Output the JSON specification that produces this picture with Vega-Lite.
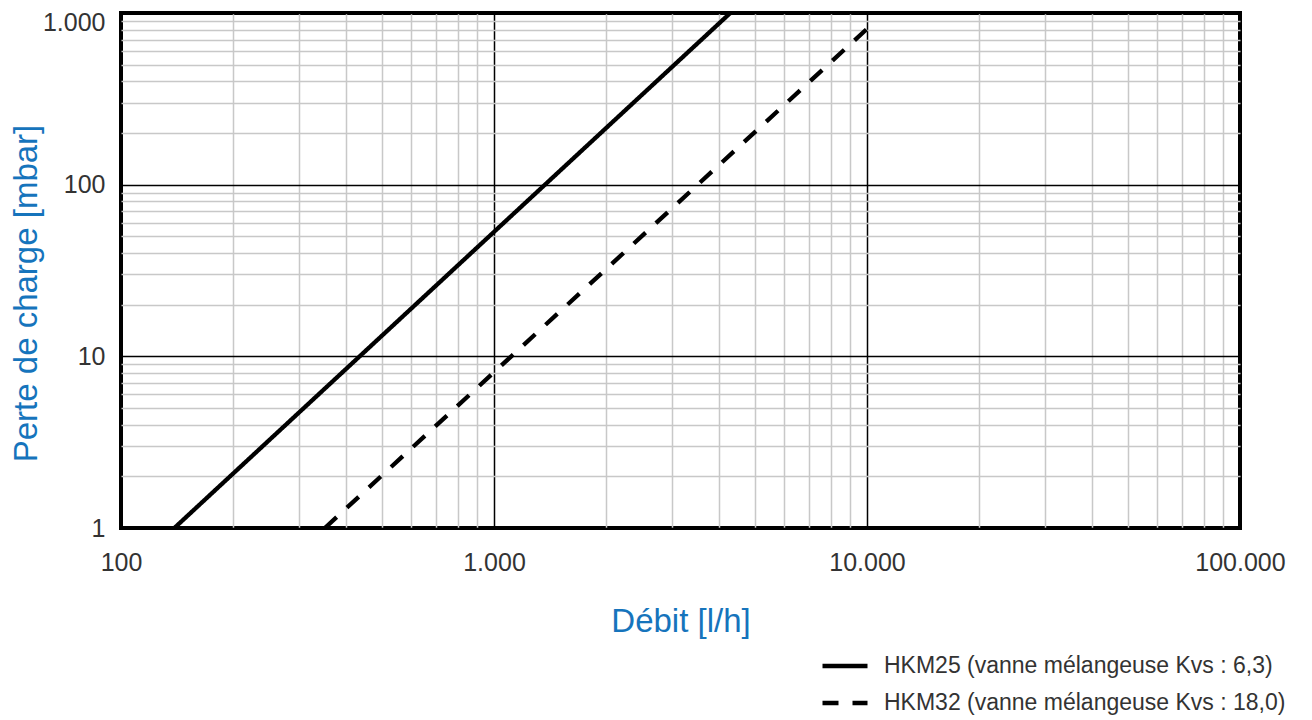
{
  "$schema": "https://vega.github.io/schema/vega-lite/v6.json",
  "width": 1119,
  "height": 515,
  "autosize": {"type": "none"},
  "padding": {"left": 121, "top": 13, "right": 72, "bottom": 192},
  "background": "white",
  "config": {
    "view": {"stroke": "#000", "strokeWidth": 4},
    "font": "Liberation Sans"
  },
  "data": {
    "values": [
      {"serie": "HKM25 (vanne mélangeuse Kvs : 6,3)", "debit": 139, "perte": 1},
      {"serie": "HKM25 (vanne mélangeuse Kvs : 6,3)", "debit": 4300, "perte": 1000},
      {"serie": "HKM32 (vanne mélangeuse Kvs : 18,0)", "debit": 352, "perte": 1},
      {"serie": "HKM32 (vanne mélangeuse Kvs : 18,0)", "debit": 10190, "perte": 840}
    ]
  },
  "mark": {"type": "line", "strokeWidth": 4.3, "color": "#000", "clip": true},
  "encoding": {
    "x": {
      "field": "debit",
      "type": "quantitative",
      "scale": {"type": "log", "domain": [100, 100000], "nice": false},
      "axis": {
        "values": [100,200,300,400,500,600,700,800,900,1000,2000,3000,4000,5000,6000,7000,8000,9000,10000,20000,30000,40000,50000,60000,70000,80000,90000,100000],
        "labelExpr": "indexof([100,1000,10000,100000], datum.value) >= 0 ? replace(format(datum.value, ','), regexp(',', 'g'), '.') : ''",
        "title": "Débit [l/h]",
        "titleColor": "#1674bc",
        "titleFontSize": 33,
        "titleFontWeight": "normal",
        "titlePadding": 30,
        "labelFontSize": 25,
        "labelColor": "#333333",
        "labelPadding": 22,
        "labelOverlap": false,
        "labelFlush": false,
        "ticks": false,
        "domain": false,
        "grid": true,
        "gridColor": {"condition": {"test": "indexof([100,1000,10000,100000], datum.value) >= 0", "value": "#000000"}, "value": "#c8c8c8"},
        "gridWidth": 1.5
      }
    },
    "y": {
      "field": "perte",
      "type": "quantitative",
      "scale": {"type": "log", "domain": [1, 1000], "nice": false},
      "axis": {
        "values": [1,2,3,4,5,6,7,8,9,10,20,30,40,50,60,70,80,90,100,200,300,400,500,600,700,800,900,1000],
        "labelExpr": "indexof([1,10,100,1000], datum.value) >= 0 ? replace(format(datum.value, ','), regexp(',', 'g'), '.') : ''",
        "title": "Perte de charge [mbar]",
        "titleColor": "#1674bc",
        "titleFontSize": 33,
        "titleFontWeight": "normal",
        "titlePadding": -1,
        "titleY": 280,
        "labelFontSize": 25,
        "labelColor": "#333333",
        "labelPadding": 16,
        "labelOverlap": false,
        "labelFlush": false,
        "labelOffset": {"condition": {"test": "datum.value === 1000", "value": 9}, "value": 0},
        "ticks": false,
        "domain": false,
        "grid": true,
        "gridColor": {"condition": {"test": "indexof([1,10,100,1000], datum.value) >= 0", "value": "#000000"}, "value": "#c8c8c8"},
        "gridWidth": 1.5
      }
    },
    "strokeDash": {
      "field": "serie",
      "type": "nominal",
      "scale": {
        "domain": ["HKM25 (vanne mélangeuse Kvs : 6,3)", "HKM32 (vanne mélangeuse Kvs : 18,0)"],
        "range": [[1, 0], [16, 14]]
      },
      "legend": {
        "title": null,
        "orient": "none",
        "legendX": 699,
        "legendY": 628,
        "padding": 0,
        "symbolType": "stroke",
        "symbolSize": 2025,
        "symbolStrokeWidth": 4.3,
        "symbolStrokeColor": "#000000",
        "labelFontSize": 23,
        "labelColor": "#333333",
        "labelOffset": 14,
        "rowPadding": -11,
        "labelLimit": 500
      }
    }
  }
}
